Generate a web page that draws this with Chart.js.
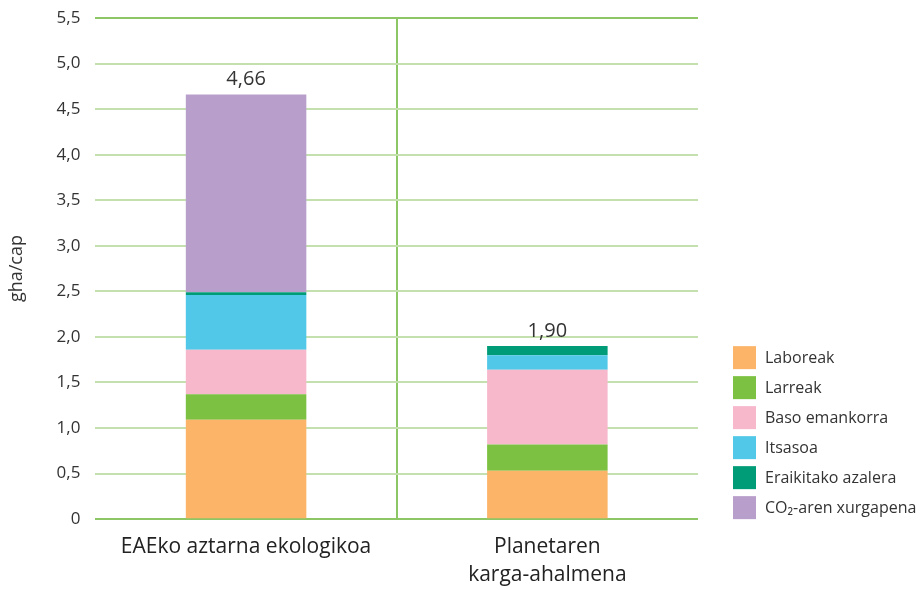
<!DOCTYPE html>
<html>
<head>
<meta charset="utf-8">
<script src="https://cdn.jsdelivr.net/npm/chart.js@4.4.1/dist/chart.umd.min.js"></script>
<style>
  html, body { margin: 0; padding: 0; background: #fff; }
  #wrap { width: 920px; height: 590px; }
</style>
</head>
<body>
<div id="wrap"><canvas id="footprint" width="920" height="590"></canvas></div>
<script>
// categories and series (gha/cap)
const categories = ["EAEko aztarna ekologikoa", ["Planetaren", "karga-ahalmena"]];
const seriesNames = ["Laboreak", "Larreak", "Baso emankorra", "Itsasoa", "Eraikitako azalera", "CO₂-aren xurgapena"];
const laboreak = [1.09, 0.53];
const larreak = [0.28, 0.29];
const basoEmankorra = [0.49, 0.82];
const itsasoa = [0.60, 0.16];
const eraikitakoAzalera = [0.03, 0.10];
const co2Xurgapena = [2.17, 0];
const totals = [4.66, 1.90];
const yTicks = [0, 0.5, 1, 1.5, 2, 2.5, 3, 3.5, 4, 4.5, 5, 5.5];

const colors = ["#FBB468", "#7DC142", "#F7B8CC", "#52C8E8", "#009B77", "#B89ECB"];
const seriesValues = [laboreak, larreak, basoEmankorra, itsasoa, eraikitakoAzalera, co2Xurgapena];

const fontFamily = "'Open Sans', 'Noto Sans', sans-serif";
const fmt = v => v === 0 ? "0" : v.toFixed(1).replace(".", ",");

// totals written above each stack
const totalLabels = {
    id: "totalLabels",
    afterDatasetsDraw(chart) {
        const ctx = chart.ctx;
        const xs = chart.scales.x, ys = chart.scales.y;
        ctx.save();
        ctx.font = "20px " + fontFamily;
        ctx.fillStyle = "#333";
        ctx.textAlign = "center";
        ctx.textBaseline = "bottom";
        for (let i = 0; i < totals.length; i++) {
            ctx.fillText(totals[i].toFixed(2).replace(".", ","), xs.getPixelForValue(i), ys.getPixelForValue(totals[i]) - 5);
        }
        ctx.restore();
    }
};

// legend drawn on the right, bottom aligned with the plot area
const sideLegend = {
    id: "sideLegend",
    afterDraw(chart) {
        const ctx = chart.ctx;
        const area = chart.chartArea;
        const sets = chart.data.datasets;
        const box = 23, gap = 30, x0 = 733;
        ctx.save();
        ctx.font = "16px " + fontFamily;
        ctx.textBaseline = "middle";
        ctx.textAlign = "left";
        for (let i = 0; i < sets.length; i++) {
            const top = area.bottom - box - (sets.length - 1 - i) * gap;
            ctx.fillStyle = sets[i].backgroundColor;
            ctx.fillRect(x0, top, box, box);
            ctx.fillStyle = "#333";
            ctx.fillText(sets[i].label, x0 + box + 9, top + box / 2 + 1);
        }
        ctx.restore();
    }
};

const datasets = [];
for (let i = 0; i < seriesNames.length; i++) {
    datasets.push({
        label: seriesNames[i],
        data: seriesValues[i],
        backgroundColor: colors[i],
        borderWidth: 0
    });
}

new Chart(document.getElementById("footprint"), {
    type: "bar",
    data: { labels: categories, datasets: datasets },
    options: {
        responsive: false,
        animation: false,
        layout: { padding: { top: 0, right: 222, left: 6, bottom: -13 } },
        datasets: { bar: { categoryPercentage: 1, barPercentage: 0.4 } },
        plugins: {
            legend: { display: false },
            tooltip: { enabled: false }
        },
        scales: {
            x: {
                stacked: true,
                border: { display: false },
                grid: {
                    offset: true,
                    drawTicks: false,
                    lineWidth: 2,
                    color: c => c.index === 1 ? "#8CC665" : "transparent"
                },
                ticks: {
                    padding: 14,
                    color: "#222",
                    font: { size: 21, family: fontFamily, lineHeight: 1.33 }
                }
            },
            y: {
                stacked: true,
                min: 0,
                max: 5.5,
                afterBuildTicks: axis => { axis.ticks = yTicks.map(v => ({ value: v })); },
                // keep the top label gap small (tick padding is only meant horizontally)
                afterFit: axis => { axis.paddingTop = 18; },
                border: { display: false },
                grid: {
                    drawTicks: false,
                    lineWidth: 2,
                    color: c => (c.tick && (c.tick.value === 0 || c.tick.value === 5.5)) ? "#8CC665" : "#C4E0AE"
                },
                ticks: {
                    padding: 15,
                    color: "#333",
                    font: { size: 17, family: fontFamily },
                    callback: v => fmt(v)
                },
                title: {
                    display: true,
                    text: "gha/cap",
                    color: "#333",
                    font: { size: 18, family: fontFamily },
                    padding: { top: 0, bottom: 14 }
                }
            }
        }
    },
    plugins: [totalLabels, sideLegend]
});
</script>
</body>
</html>
